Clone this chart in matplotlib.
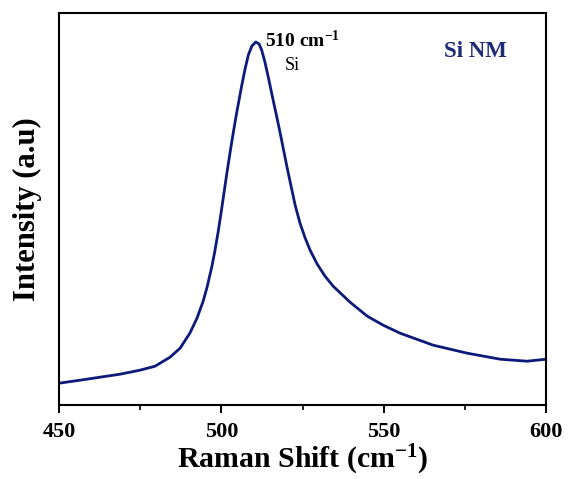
import matplotlib
matplotlib.use("Agg")
import matplotlib.pyplot as plt
from matplotlib.ticker import MultipleLocator

plt.rcParams['font.family'] = ['Liberation Serif', 'DejaVu Serif']
plt.rcParams['mathtext.fontset'] = 'custom'
plt.rcParams['mathtext.rm'] = 'Liberation Serif'
plt.rcParams['mathtext.it'] = 'Liberation Serif:italic'
plt.rcParams['mathtext.bf'] = 'Liberation Serif:bold'

# Data (Raman shift in cm^-1, intensity in arbitrary units)
raman_shift = [450.0, 456.5, 462.6, 468.8, 474.9, 479.6, 484.2, 487.3,
               490.3, 492.5, 494.4, 495.6, 497.1, 498.0, 499.0, 499.9, 500.8,
               501.7, 502.7, 503.7, 504.7, 506.3, 507.3, 508.3, 509.4, 510.6,
               511.6, 512.4, 513.4, 514.5, 515.6, 516.8, 518.1, 520.2, 522.7,
               524.2, 525.8, 527.3, 529.5, 531.9, 534.4, 539.6, 544.9, 549.8,
               555.0, 565.2, 575.7, 585.8, 594.1, 600.0]
intensity = [22, 25, 28, 31, 35, 39, 48, 57,
             72, 87, 104, 118, 139, 154, 173, 192, 212,
             232, 253, 273, 292, 320, 336, 350, 359, 363,
             361, 355, 343, 327, 310, 292, 272, 238, 200,
             182, 167, 155, 141, 129, 119, 103, 89, 80,
             72, 60, 52, 46, 44, 46]

x_ticks = [450, 500, 550, 600]
x_tick_labels = ["450", "500", "550", "600"]

line_color = "#0d1a7a"

fig = plt.figure(figsize=(5.72, 4.79), dpi=100)
ax = fig.add_axes([0.103, 0.154, 0.852, 0.819])

ax.plot(raman_shift, intensity, color=line_color, lw=2.0,
        solid_capstyle='round', solid_joinstyle='round')

ax.set_xlim(450, 600)
ax.set_ylim(0, 392)
ax.set_xticks(x_ticks)
ax.set_xticklabels(x_tick_labels, fontsize=16, fontweight='bold')
ax.xaxis.set_minor_locator(MultipleLocator(25))
ax.tick_params(axis='x', which='major', direction='out', length=6, width=1.4, pad=6)
ax.tick_params(axis='x', which='minor', direction='out', length=3.5, width=1.2)
ax.set_yticks([])
for sp in ax.spines.values():
    sp.set_linewidth(1.5)

ax.set_xlabel("Raman Shift (cm$^{\\mathbf{-1}}$)", fontsize=21.5, fontweight='bold', labelpad=1)
ax.set_ylabel("Intensity (a.u)", fontsize=22, fontweight='bold', labelpad=12)

ax.text(513.4, 358, "510 cm$^{\\mathbf{-1}}$", fontsize=14, fontweight='bold',
        ha='left', va='baseline')
ax.text(519.6, 335, "Si", fontsize=13, ha='left', va='baseline')
ax.text(578.1, 348, "Si NM", fontsize=16.5, fontweight='bold', color="#1f2a78",
        ha='center', va='baseline')

fig.savefig("out.png", dpi=100)
